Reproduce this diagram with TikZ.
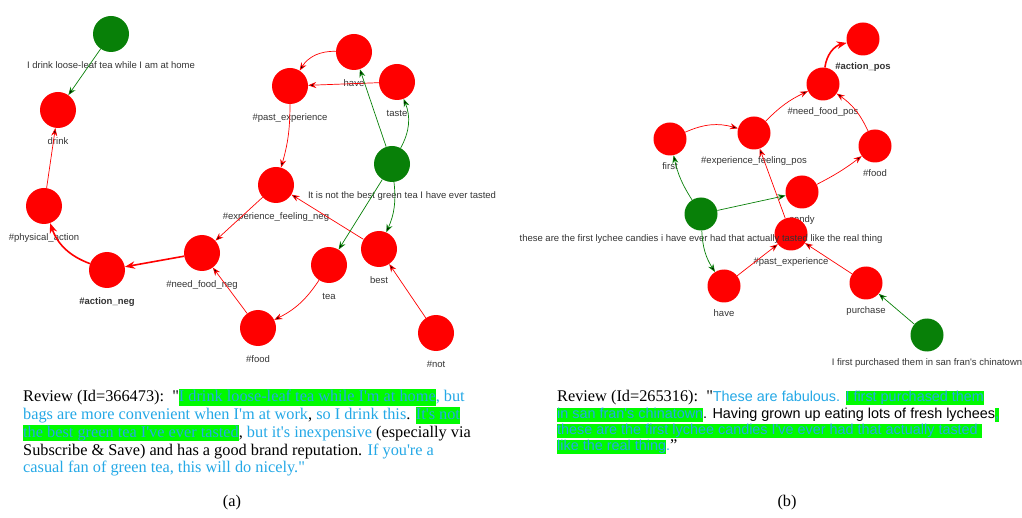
\documentclass[tikz,border=0pt]{standalone}
\usepackage{fontspec}
\setmainfont{Liberation Serif}
\setsansfont{Liberation Sans}
\newfontfamily\revrm{Liberation Serif}
\newfontfamily\revsf{Liberation Sans}
\usepackage{tikz}
\usetikzlibrary{arrows.meta}

\definecolor{nodered}{RGB}{255,0,0}
\definecolor{nodegreen}{RGB}{8,128,8}
\definecolor{revblue}{RGB}{36,168,230}
\definecolor{hlgreen}{RGB}{0,250,0}
\definecolor{lblgray}{RGB}{51,51,51}
\newcommand{\hlbox}[1]{{\setlength{\fboxsep}{0pt}\colorbox{hlgreen}{\rule[-0.25em]{0pt}{1.0em}#1}}}
\newcommand{\cy}[1]{\textcolor{revblue}{#1}}

\begin{document}
\begin{tikzpicture}[x=1pt,y=-1pt,
	lbl/.style={font=\revsf\fontsize{9.5}{11}\selectfont,text=lblgray,inner sep=1pt,text height=7pt,text depth=2pt,yshift=-8.5pt},
	slbl/.style={lbl,yshift=2.5pt},
	vtx/.style={shape=circle,minimum size=36pt,inner sep=0pt},
	small/.style={minimum size=33pt},
	redv/.style={vtx,fill=nodered},
	greenv/.style={vtx,fill=nodegreen},
	redge/.style={draw=nodered,line width=0.7pt,-{Stealth[length=8pt,width=6pt]}},
	gedge/.style={draw=nodegreen,line width=0.7pt,-{Stealth[length=8pt,width=6pt]}},
	heavy/.style={line width=1.6pt,-{Stealth[length=10pt,width=7.5pt]}},
	rev/.style={inner sep=0pt,font=\revrm\fontsize{16.3}{18}\selectfont},
	revsf/.style={font=\revsf\fontsize{14.4}{16}\selectfont}]
	\useasboundingbox (0,0) rectangle (1022,518);

	% (a) graph
	\node [greenv,label={[lbl]below:I drink loose-leaf tea while I am at home}] (g1) at (111,34) {};
	\node [redv,label={[lbl]below:drink}] (drink) at (58,110) {};
	\node [redv,label={[lbl]below:\#physical\_action}] (phys) at (44,206) {};
	\node [redv,label={[lbl]below:\textbf{\#action\_neg}}] (actneg) at (107,270) {};
	\node [redv,label={[lbl]below:\#need\_food\_neg}] (needneg) at (202,253) {};
	\node [redv,label={[lbl]below:\#food}] (fooda) at (258,328) {};
	\node [redv,label={[lbl]below:\#experience\_feeling\_neg}] (expneg) at (276,185) {};
	\node [redv,label={[lbl]below:\#past\_experience}] (pasta) at (290,86) {};
	\node [redv,label={[lbl]below:have}] (havea) at (354,52) {};
	\node [redv,label={[lbl]below:taste}] (taste) at (397,82) {};
	\node [redv,label={[lbl]below:tea}] (tea) at (329,265) {};
	\node [redv,label={[lbl]below:best}] (best) at (379,249) {};
	\node [redv,label={[lbl]below:\#not}] (not) at (436,333) {};
	\node [greenv,label={[lbl,xshift=10pt]below:It is not the best green tea I have ever tasted}] (g2) at (392,164) {};

	\path [gedge] (g1) edge (drink);
	\path [redge] (phys) edge (drink);
	\path [redge,heavy] (actneg) edge [bend left=25] (phys);
	\path [redge,heavy] (needneg) edge (actneg);
	\path [redge] (fooda) edge (needneg);
	\path [redge] (expneg) edge (needneg);
	\path [redge] (tea) edge [bend left=15] (fooda);
	\path [redge] (best) edge (expneg);
	\path [redge] (not) edge (best);
	\path [redge] (pasta) edge [bend left=8] (expneg);
	\path [redge] (havea) edge [bend right=30] (pasta);
	\path [redge] (taste) edge (pasta);
	\path [gedge] (g2) edge (havea);
	\path [gedge] (g2) edge [bend right=25] (taste);
	\path [gedge] (g2) edge (tea);
	\path [gedge] (g2) edge [bend left=15] (best);

	% (b) graph
	\node [redv,small,label={[slbl]below:\textbf{\#action\_pos}}] (actpos) at (863,39) {};
	\node [redv,small,label={[slbl]below:\#need\_food\_pos}] (needpos) at (823,84) {};
	\node [redv,small,label={[slbl]below:\#experience\_feeling\_pos}] (exppos) at (754,133) {};
	\node [redv,small,label={[slbl]below:first}] (first) at (670,139) {};
	\node [redv,small,label={[slbl]below:\#food}] (foodb) at (875,146) {};
	\node [redv,small,label={[slbl]below:candy}] (candy) at (802,192) {};
	\node [redv,small,label={[slbl]below:\#past\_experience}] (pastb) at (791,234) {};
	\node [redv,small,label={[slbl]below:have}] (haveb) at (724,286) {};
	\node [redv,small,label={[slbl]below:purchase}] (purchase) at (866,283) {};
	\node [greenv,small,label={[slbl,yshift=3.5pt]below:these are the first lychee candies i have ever had that actually tasted like the real thing}] (g3) at (701,214) {};
	\node [greenv,small,label={[slbl]below:I first purchased them in san fran's chinatown}] (g4) at (927,335) {};

	\path [redge,heavy] (needpos) edge [bend left=35] (actpos);
	\path [redge] (exppos) edge [bend left=10] (needpos);
	\path [redge] (foodb) edge [bend right=15] (needpos);
	\path [redge] (first) edge [bend left=20] (exppos);
	\path [redge] (candy) edge [bend right=5] (foodb);
	\path [redge] (pastb) edge (exppos);
	\path [redge] (haveb) edge (pastb);
	\path [redge] (purchase) edge (pastb);
	\path [gedge] (g4) edge (purchase);
	\path [gedge] (g3) edge [bend left=10] (first);
	\path [gedge] (g3) edge (candy);
	\path [gedge] (g3) edge [bend right=15] (haveb);

	% review texts
	\node [rev,anchor=base west] (rva1) at (23,401.7) {Review (Id=366473):\ \ "\hlbox{\cy{I drink loose-leaf tea while I'm at home}}\cy{, but}};
	\node [rev,anchor=base west] (rva2) at (23,419.5) {\cy{bags are more convenient when I'm at work}, \cy{so I drink this}. \hlbox{\cy{It's not}}};
	\node [rev,anchor=base west] (rva3) at (23,437.3) {\hlbox{\cy{the best green tea I've ever tasted}}, \cy{but it's inexpensive} (especially via};
	\node [rev,anchor=base west] (rva4) at (23,455.1) {Subscribe \& Save) and has a good brand reputation. \cy{If you're a}};
	\node [rev,anchor=base west] (rva5) at (23,472.9) {\cy{casual fan of green tea, this will do nicely."}};
	\node [rev,anchor=base] (capa) at (232,506) {(a)};

	\node [rev,anchor=base west] (rvb1) at (557,401.7) {Review (Id=265316):\ \ "{\revsf\fontsize{14.4}{16}\selectfont\cy{These are fabulous. }\hlbox{\cy{I first purchased them}}}};
	\node [rev,revsf,anchor=base west] (rvb2) at (557,418.3) {\hlbox{\cy{in san fran's chinatown}}. Having grown up eating lots of fresh lychees\hlbox{\cy{,}}};
	\node [rev,revsf,anchor=base west] (rvb3) at (557,434.5) {\hlbox{\cy{these are the first lychee candies I've ever had that actually tasted }}};
	\node [rev,revsf,anchor=base west] (rvb4) at (557,450.7) {\hlbox{\cy{like the real thing}}\cy{.}{\revrm\fontsize{16.3}{18}\selectfont ”}};
	\node [rev,anchor=base] (capb) at (787,506) {(b)};
\end{tikzpicture}
\end{document}
